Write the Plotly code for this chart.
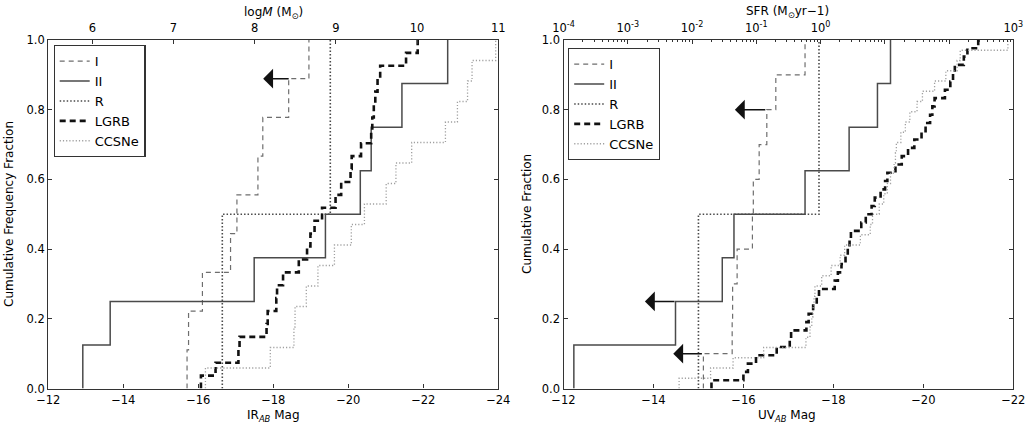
import plotly.graph_objects as go

# ---------------- data ----------------
# Left panel: IR_AB magnitudes (sorted), cumulative fraction
ir_I = [-15.70, -15.74, -16.11, -16.86, -17.03, -17.59, -17.72, -18.41, -18.95]
ir_II = [-12.92, -13.65, -17.49, -19.39, -20.32, -20.61, -21.43, -22.65]
ir_R = [-16.64, -19.52]
ir_LGRB = [-16.07, -16.46, -17.07, -17.10, -17.82, -17.85, -18.08, -18.10, -18.26,
           -18.68, -18.90, -18.99, -19.10, -19.30, -19.66, -19.81, -20.06, -20.09,
           -20.34, -20.61, -20.64, -20.68, -20.72, -20.78, -20.85, -21.54, -21.85]
ir_CCSNe = [-16.19, -17.92, -18.55, -18.58, -18.88, -19.19, -19.63, -20.08, -20.43,
            -21.01, -21.27, -21.69, -22.59, -22.91, -23.18, -23.30, -23.93]

# Right panel: UV_AB magnitudes (sorted)
uv_I = [-15.11, -15.75, -15.76, -15.86, -16.20, -16.22, -16.35, -16.52, -16.72, -17.37]
uv_II = [-12.23, -14.49, -15.53, -15.79, -17.37, -18.35, -18.98, -19.27]
uv_R = [-15.00, -17.68]
uv_LGRB = [-15.29, -16.00, -16.10, -16.28, -16.74, -17.03, -17.06, -17.40, -17.45,
           -17.55, -17.63, -17.68, -18.03, -18.10, -18.18, -18.27, -18.32, -18.36,
           -18.39, -18.62, -18.72, -18.85, -18.92, -19.05, -19.15, -19.20, -19.38,
           -19.52, -19.66, -19.80, -19.96, -20.05, -20.15, -20.20, -20.25, -20.48,
           -20.60, -20.66, -20.70, -20.90, -20.98, -21.22]
uv_CCSNe = [-14.57, -15.27, -15.77, -16.45, -17.39, -17.48, -17.52, -17.55, -17.57,
            -17.59, -17.74, -17.95, -18.15, -18.25, -18.60, -18.82, -18.87, -19.02,
            -19.12, -19.20, -19.27, -19.35, -19.38, -19.40, -19.50, -19.60, -19.70,
            -19.86, -19.98, -20.25, -20.50, -20.75, -20.82, -21.88]

# upper-limit arrows: (from magnitude, cumulative fraction, to magnitude)
ir_limits = [(-18.45, 8 / 9, -17.73)]
uv_limits = [(-14.50, 0.25, -13.81), (-15.11, 0.10, -14.44), (-16.52, 0.80, -15.81)]

series_names = ["I", "II", "R", "LGRB", "CCSNe"]
ir_ticks = [-12, -14, -16, -18, -20, -22, -24]
uv_ticks = [-12, -14, -16, -18, -20, -22]
y_ticks = [0.0, 0.2, 0.4, 0.6, 0.8, 1.0]
logm_ticks = [6, 7, 8, 9, 10, 11]
sfr_exps = [-4, -3, -2, -1, 0, 1, 2, 3]
sfr_labels = ["10<sup>-4</sup>", "10<sup>-3</sup>", "10<sup>-2</sup>", "10<sup>-1</sup>",
              "10<sup>0</sup>", "", "", "10<sup>3</sup>"]

# ---------------- styles ----------------
styles = {
    "I": dict(color="#6e6e6e", width=1.2, dash="5px,4px"),
    "II": dict(color="#4a4a4a", width=1.5, dash="solid"),
    "R": dict(color="#4a4a4a", width=1.6, dash="1.5px,2px"),
    "LGRB": dict(color="#111111", width=2.6, dash="6px,4px"),
    "CCSNe": dict(color="#a0a0a0", width=1.3, dash="1.2px,2px"),
}

FONT = "DejaVu Sans"
W, H = 1033, 427


def cum_xy(vals):
    n = len(vals)
    xs = [vals[0]] + list(vals)
    ys = [0.0] + [(i + 1) / n for i in range(n)]
    return xs, ys


fig = go.Figure()

panels = [
    ("x", "y", "legend", [ir_I, ir_II, ir_R, ir_LGRB, ir_CCSNe]),
    ("x3", "y2", "legend2", [uv_I, uv_II, uv_R, uv_LGRB, uv_CCSNe]),
]
for xa, ya, leg, data in panels:
    for name, vals in zip(series_names, data):
        xs, ys = cum_xy(vals)
        fig.add_trace(go.Scatter(
            x=xs, y=ys, mode="lines", name=name, line_shape="hv",
            line=styles[name], xaxis=xa, yaxis=ya, legend=leg,
            hoverinfo="skip"))

# dummy traces so the top axes are drawn
fig.add_trace(go.Scatter(x=[None], y=[None], xaxis="x2", yaxis="y", showlegend=False, hoverinfo="skip"))
fig.add_trace(go.Scatter(x=[None], y=[None], xaxis="x4", yaxis="y2", showlegend=False, hoverinfo="skip"))

# domains (pixels -> paper)
L1, R1 = 48.3 / W, 498.3 / W
L2, R2 = 563.5 / W, 1013.3 / W
YB, YT = 1 - 388.5 / H, 1 - 40 / H

axis_common = dict(
    showline=True, linecolor="#333333", linewidth=1.3, ticks="inside", ticklen=4,
    tickwidth=1, tickcolor="#333333", showgrid=False, zeroline=False, automargin=False,
    tickfont=dict(family=FONT, size=11.5, color="black"),
)

fig.update_layout(
    template="none",
    width=W, height=H, autosize=False,
    margin=dict(l=0, r=0, t=0, b=0, autoexpand=False),
    paper_bgcolor="white", plot_bgcolor="white",
    font=dict(family=FONT, size=12, color="black"),
    xaxis=dict(domain=[L1, R1], anchor="y", range=[-12, -24], tickmode="array",
               tickvals=ir_ticks, ticklabelstandoff=1, **axis_common),
    xaxis2=dict(overlaying="x", side="top", anchor="y", range=[5.458, 11],
                tickmode="array", tickvals=logm_ticks, ticklabelstandoff=2, **axis_common),
    yaxis=dict(domain=[YB, YT], anchor="x", range=[0, 1], tickmode="array",
               tickvals=y_ticks, tickformat=".1f", mirror="ticks", **axis_common),
    xaxis3=dict(domain=[L2, R2], anchor="y2", range=[-12, -22], tickmode="array",
                tickvals=uv_ticks, ticklabelstandoff=1, **axis_common),
    xaxis4=dict(overlaying="x3", side="top", anchor="y2", type="log", range=[-4, 3],
                tickmode="array", tickvals=[10.0 ** e for e in sfr_exps], ticktext=sfr_labels,
                ticklabelstandoff=2,
                minor=dict(tickmode="array",
                           tickvals=[m * 10.0 ** e for e in sfr_exps[:-1] for m in range(2, 10)],
                           ticks="inside", ticklen=2, tickcolor="#333333"),
                **axis_common),
    yaxis2=dict(domain=[YB, YT], anchor="x3", range=[0, 1], tickmode="array",
                tickvals=y_ticks, tickformat=".1f", mirror="ticks", **axis_common),
    legend=dict(x=53.5 / W, y=1 - 45 / H, xanchor="left", yanchor="top",
                bgcolor="white", bordercolor="#333333", borderwidth=1.2, itemwidth=30,
                font=dict(family=FONT, size=13, color="black"), tracegroupgap=0),
    legend2=dict(x=568 / W, y=1 - 48 / H, xanchor="left", yanchor="top",
                 bgcolor="white", bordercolor="#333333", borderwidth=1.2, itemwidth=30,
                 font=dict(family=FONT, size=13, color="black"), tracegroupgap=0),
)

# upper-limit arrows
for xa, ya, lims in [("x", "y", ir_limits), ("x3", "y2", uv_limits)]:
    for x0, yv, x1 in lims:
        fig.add_annotation(x=x1, y=yv, ax=x0, ay=yv, xref=xa, yref=ya, axref=xa, ayref=ya,
                           text="", showarrow=True, arrowhead=1, arrowsize=2.2,
                           arrowwidth=1.5, arrowcolor="#111111", standoff=0, startstandoff=0)

# axis titles
titles = [
    (9, 214, "Cumulative Frequency Fraction", -90),
    (527, 214, "Cumulative Fraction", -90),
    (273, 416, "IR<sub><i>AB</i></sub> Mag", 0),
    (787, 416, "UV<sub><i>AB</i></sub> Mag", 0),
    (273, 13, "log<i>M</i> (M<sub>⊙</sub>)", 0),
    (787, 12, "SFR (M<sub>⊙</sub>yr−1)", 0),
]
for px, py, txt, ang in titles:
    fig.add_annotation(x=px / W, y=1 - py / H, xref="paper", yref="paper", text=txt,
                       showarrow=False, textangle=ang, xanchor="center", yanchor="middle",
                       font=dict(family=FONT, size=12, color="black"))

fig.write_html(
    "out.html",
    config={"displayModeBar": False},
    post_script="document.body.style.margin='0';document.body.style.overflow='hidden';",
)
